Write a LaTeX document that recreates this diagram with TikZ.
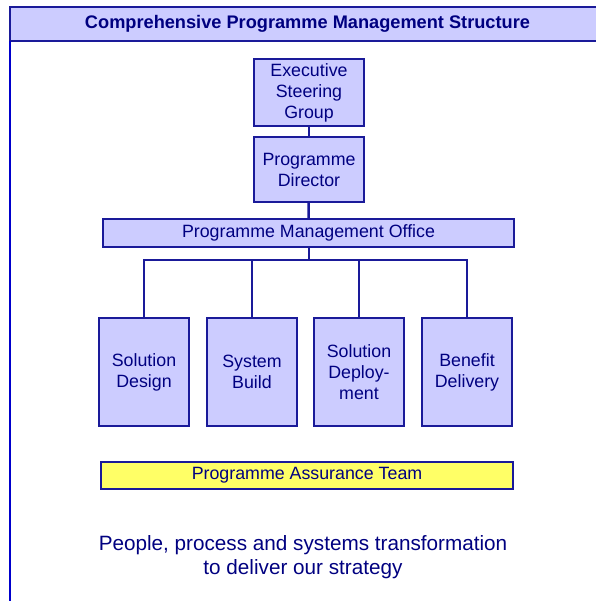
\documentclass[tikz,border=0pt]{standalone}
\usepackage{fontspec}
\setmainfont{Liberation Sans}
\usepackage{xcolor}
\usetikzlibrary{calc, positioning}

\definecolor{boxfill}{HTML}{CCCCFF}
\definecolor{boxline}{HTML}{1A1A99}
\definecolor{boxtext}{HTML}{000080}
\definecolor{framecol}{HTML}{0000CC}
\definecolor{teamfill}{HTML}{FFFF66}

\tikzset{
	unit/.style = {draw = boxline, fill = boxfill, line width = 1.3pt, text = boxtext, align = center, inner sep = 0pt, font = \fontsize{17.8}{21}\selectfont},
	wire/.style = {draw = boxline, line width = 1.3pt}
}

\begin{document}
\begin{tikzpicture}[x = 1pt, y = -1pt]
	\def\bw{90};
	\def\bh{108};
	\def\by{372};
	
	\useasboundingbox (0,0) rectangle (595,601);
	
	\filldraw [fill = boxfill, draw = boxline, line width = 1.5pt] (10,7) rectangle (600,41);
	\draw [draw = framecol, line width = 1.3pt] (10,41) -- (10,605);
	\node (title) at (307.5,23.5) [text = boxtext, font = \fontsize{18.2}{20}\selectfont\bfseries] {Comprehensive Programme Management Structure};
	
	\node (esg) at (309,92.5) [unit, minimum width = 110, minimum height = 67] {Executive\\Steering\\Group};
	\node (pd) at (309,169.5) [unit, minimum width = 110, minimum height = 65] {Programme\\Director};
	\node (pmo) at (308.5,233) [unit, minimum width = 411, minimum height = 28] {Programme Management Office};
	
	\node (sd) at (144,\by) [unit, minimum width = \bw, minimum height = \bh] {Solution\\Design};
	\node (sb) at (252,\by) [unit, minimum width = \bw, minimum height = \bh] {System\\Build};
	\node (sdep) at (359,\by) [unit, minimum width = \bw, minimum height = \bh] {Solution\\Deploy-\\ment};
	\node (bd) at (467,\by) [unit, minimum width = \bw, minimum height = \bh] {Benefit\\Delivery};
	
	\node (pat) at (307,475.5) [unit, fill = teamfill, minimum width = 412, minimum height = 27] {Programme Assurance Team};
	
	\node (goal) at (303,557) [text = boxtext, align = center, font = \fontsize{20.7}{24}\selectfont] {People, process and systems transformation\\to deliver our strategy};
	
	\coordinate (bus) at (309,260);
	\draw [wire] (esg) -- (pd);
	\draw [wire, line width = 2.5pt] (pd) -- (pmo);
	\draw [wire] (pmo.south -| bus) -- (bus);
	\foreach \b in {sd, sb, sdep, bd}
		\draw [wire] (\b.north) |- (bus);
\end{tikzpicture}
\end{document}
